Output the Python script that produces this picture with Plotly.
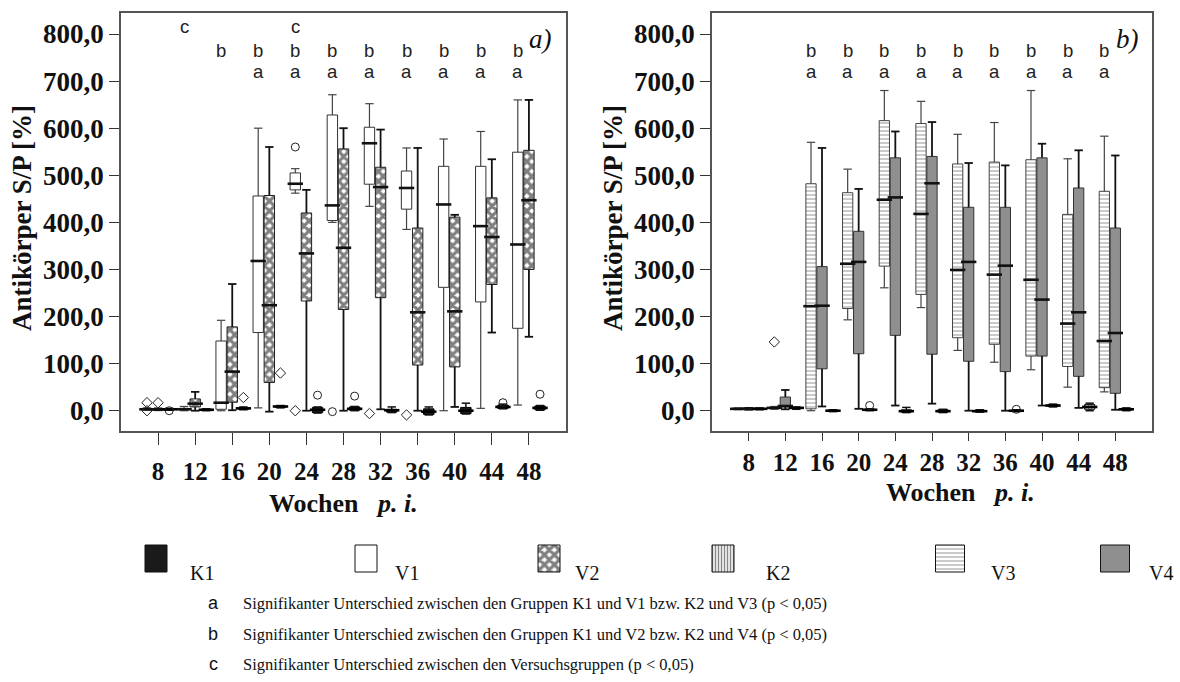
import plotly.graph_objects as go

# ---------------- data ----------------
weeks = [8, 12, 16, 20, 24, 28, 32, 36, 40, 44, 48]

# panel a) : V1, V2, K1   (lower whisker, Q1, median, Q3, upper whisker)
v1_lo  = [1, 0, 0, 6, 462, 400, 434, 385, 0, 5, 12]
v1_q1  = [2, 2, 3, 166, 469, 404, 481, 428, 262, 231, 175]
v1_med = [3, 3, 17, 318, 482, 436, 568, 473, 438, 392, 353]
v1_q3  = [4, 5, 148, 456, 505, 628, 602, 509, 519, 519, 549]
v1_hi  = [6, 9, 192, 600, 514, 671, 652, 558, 577, 593, 660]
v1_circles  = [(24, 560), (28, -2)]
v1_diamonds = [(8, 17), (8, 0), (24, 0), (32, -6), (36, -9)]

v2_lo  = [1, 0, 1, -2, 0, 0, 3, 0, 8, 166, 157]
v2_q1  = [2, 8, 18, 60, 233, 215, 240, 97, 93, 268, 300]
v2_med = [3, 15, 83, 224, 334, 346, 475, 209, 211, 369, 447]
v2_q3  = [4, 25, 178, 457, 420, 556, 517, 388, 411, 452, 553]
v2_hi  = [5, 40, 269, 560, 469, 600, 597, 558, 416, 534, 660]
v2_circles  = []
v2_diamonds = [(8, 17)]

k1_lo  = [1, 0, 2, 6, -5, 0, -4, -9, -7, 4, 1]
k1_q1  = [2, 1, 3, 7, -4, 1, -3, -8, -6, 5, 2]
k1_med = [3, 2, 5, 9, 2, 4, 1, -2, 0, 8, 6]
k1_q3  = [4, 3, 6, 10, 7, 8, 3, 4, 7, 12, 10]
k1_hi  = [5, 4, 8, 11, 8, 9, 8, 8, 16, 14, 11]
k1_circles  = [(8, 0), (24, 33), (28, 31), (44, 17), (48, 35)]
k1_diamonds = [(16, 28), (20, 80)]

# panel b) : V3, V4, K2
v3_lo  = [2, 3, 0, 193, 261, 219, 128, 103, 87, 50, 40]
v3_q1  = [3, 5, 4, 217, 307, 247, 155, 141, 116, 94, 49]
v3_med = [4, 6, 222, 312, 448, 418, 299, 289, 278, 185, 148]
v3_q3  = [5, 7, 482, 463, 616, 610, 524, 528, 533, 417, 466]
v3_hi  = [6, 9, 570, 513, 680, 657, 587, 612, 680, 535, 583]
v3_circles  = []
v3_diamonds = [(12, 146)]

v4_lo  = [2, 3, 9, 4, 11, 15, 0, 0, 11, 6, 2]
v4_q1  = [3, 8, 89, 121, 160, 120, 105, 83, 116, 73, 37]
v4_med = [4, 10, 223, 316, 453, 483, 316, 308, 236, 209, 165]
v4_q3  = [5, 29, 306, 381, 537, 540, 432, 432, 537, 473, 388]
v4_hi  = [6, 44, 558, 471, 593, 613, 526, 521, 567, 553, 542]
v4_circles  = []
v4_diamonds = []

k2_lo  = [2, 3, -2, 0, -4, -4, -3, -2, 8, 0, 0]
k2_q1  = [3, 5, -1, 1, -3, -3, -2, -1, 9, 3, 1]
k2_med = [4, 6, 0, 2, -1, -1, -1, 0, 11, 8, 3]
k2_q3  = [5, 7, 1, 3, 2, 2, 1, 1, 13, 13, 5]
k2_hi  = [6, 8, 2, 4, 7, 3, 2, 2, 14, 16, 6]
k2_circles  = [(20, 11), (36, 3)]
k2_diamonds = []

# significance letters per week (top to bottom)
sig_a = ["", "c", "b", "ba", "cba", "ba", "ba", "ba", "ba", "ba", "ba"]
sig_b = ["", "", "ba", "ba", "ba", "ba", "ba", "ba", "ba", "ba", "ba"]

y_ticks = [0, 100, 200, 300, 400, 500, 600, 700, 800]

legend_labels = ["K1", "V1", "V2", "K2", "V3", "V4"]
footnotes = [
    ("a", "Signifikanter Unterschied zwischen den Gruppen K1 und V1 bzw. K2 und V3 (p < 0,05)"),
    ("b", "Signifikanter Unterschied zwischen den Gruppen K1 und V2 bzw. K2 und V4 (p < 0,05)"),
    ("c", "Signifikanter Unterschied zwischen den Versuchsgruppen (p < 0,05)"),
]

# ---------------- layout helpers ----------------
W, H = 1180, 682
def fx(p):
    return p / W
def fy(p):
    return 1 - p / H

SERIF = "Liberation Serif"
SANS = "Liberation Sans"
BOX_W = 1.12
OFF = 1.2

PAT_V2 = dict(shape="x", fgcolor="#000000", bgcolor="white", size=7, solidity=0.7)
PAT_K2 = dict(shape="|", fgcolor="#111111", bgcolor="white", size=3, solidity=0.5)
PAT_V3 = dict(shape="-", fgcolor="#8a8a8a", bgcolor="white", size=4, solidity=0.45)
NOPAT = dict(shape="")

fig = go.Figure()


def add_series(xa, ya, offset, lo, q1, med, q3, hi, circles, diamonds,
               fill, pattern, outline, wcolor, wwidth, mcolor):
    xs = [w + offset for w in weeks]
    wx, wy = [], []
    for x, l, a, b, h in zip(xs, lo, q1, q3, hi):
        wx += [x, x, None, x, x, None]
        wy += [l, a, None, b, h, None]
    common = dict(xaxis=xa, yaxis=ya, showlegend=False, hoverinfo="skip")
    fig.add_trace(go.Scatter(x=wx, y=wy, mode="lines",
                             line=dict(color=wcolor, width=wwidth), **common))
    fig.add_trace(go.Scatter(x=xs + xs, y=lo + hi, mode="markers",
                             marker=dict(symbol="line-ew", size=6,
                                         line=dict(color=wcolor, width=wwidth)),
                             **common))
    fig.add_trace(go.Bar(x=xs, base=q1, y=[b - a for a, b in zip(q1, q3)],
                         width=BOX_W,
                         marker=dict(color=fill, pattern=pattern,
                                     line=dict(color=outline, width=1)),
                         **common))
    fig.add_trace(go.Scatter(x=xs, y=med, mode="markers",
                             marker=dict(symbol="line-ew", size=11,
                                         line=dict(color=mcolor, width=2.6)),
                             **common))
    if circles:
        fig.add_trace(go.Scatter(x=[w + offset for w, v in circles],
                                 y=[v for w, v in circles], mode="markers",
                                 marker=dict(symbol="circle-open", size=8,
                                             color="#222", line=dict(width=1)),
                                 **common))
    if diamonds:
        fig.add_trace(go.Scatter(x=[w + offset for w, v in diamonds],
                                 y=[v for w, v in diamonds], mode="markers",
                                 marker=dict(symbol="diamond-open", size=8,
                                             color="#222", line=dict(width=1)),
                                 **common))


# panel a
add_series("x", "y", -OFF, v1_lo, v1_q1, v1_med, v1_q3, v1_hi, v1_circles, v1_diamonds,
           "white", NOPAT, "#333", "#444", 1.2, "#111")
add_series("x", "y", 0, v2_lo, v2_q1, v2_med, v2_q3, v2_hi, v2_circles, v2_diamonds,
           "white", PAT_V2, "#222", "#111", 1.8, "#111")
add_series("x", "y", OFF, k1_lo, k1_q1, k1_med, k1_q3, k1_hi, k1_circles, k1_diamonds,
           "#1a1a1a", NOPAT, "#000", "#111", 1.5, "#000")
# panel b
add_series("x2", "y2", -OFF, v3_lo, v3_q1, v3_med, v3_q3, v3_hi, v3_circles, v3_diamonds,
           "white", PAT_V3, "#444", "#444", 1.2, "#111")
add_series("x2", "y2", 0, v4_lo, v4_q1, v4_med, v4_q3, v4_hi, v4_circles, v4_diamonds,
           "#8f8f8f", NOPAT, "#333", "#111", 1.8, "#111")
add_series("x2", "y2", OFF, k2_lo, k2_q1, k2_med, k2_q3, k2_hi, k2_circles, k2_diamonds,
           "white", PAT_K2, "#111", "#111", 1.5, "#000")

# legend swatches (drawn on a hidden helper axis in pixel units)
leg_x = [156, 366, 549, 723, 950, 1115]
leg_w = [22, 22, 22, 22, 29, 29]
leg_fill = ["#1a1a1a", "white", "white", "white", "white", "#8f8f8f"]
leg_pat = [NOPAT, NOPAT, PAT_V2, PAT_K2, PAT_V3, NOPAT]
for cx, w, f, p in zip(leg_x, leg_w, leg_fill, leg_pat):
    fig.add_trace(go.Bar(x=[cx], base=[545], y=[27], width=w,
                         marker=dict(color=f, pattern=p, line=dict(color="#111", width=1)),
                         xaxis="x3", yaxis="y3", showlegend=False, hoverinfo="skip"))
leg_text_x = [188, 393, 573, 764, 989, 1147]

axis_common = dict(showline=True, mirror=True, linecolor="#555", linewidth=1.5,
                   showgrid=False, zeroline=False, ticks="outside", tickcolor="#333",
                   tickwidth=1.2)
xfont = dict(family=SERIF, size=25, color="#111", weight="bold")
yfont = dict(family=SERIF, size=27, color="#111", weight="bold")

fig.update_layout(
    width=W, height=H, margin=dict(l=0, r=0, t=0, b=0),
    paper_bgcolor="white", plot_bgcolor="white",
    barmode="overlay", separators=",.",
    xaxis=dict(domain=[fx(121), fx(566)], range=[4, 52], tickvals=weeks,
               ticklen=12, ticklabelstandoff=5, tickfont=xfont, anchor="y", **axis_common),
    yaxis=dict(domain=[fy(431), fy(13)], range=[-43.1, 844.6], tickvals=y_ticks,
               tickformat=".1f", ticklen=10, tickfont=yfont, anchor="x", **axis_common),
    xaxis2=dict(domain=[fx(712), fx(1152)], range=[4, 52], tickvals=weeks,
                ticklen=8, tickfont=xfont, anchor="y2", **axis_common),
    yaxis2=dict(domain=[fy(431), fy(13)], range=[-43.1, 844.6], tickvals=y_ticks,
                tickformat=".1f", ticklen=10, tickfont=yfont, anchor="x2", **axis_common),
    xaxis3=dict(domain=[0, 1], range=[0, W], visible=False, anchor="y3"),
    yaxis3=dict(domain=[fy(590), fy(535)], range=[590, 535], visible=False, anchor="x3"),
)

ann = []
C = dict(xanchor="center", yanchor="middle", showarrow=False, xref="paper", yref="paper")
# axis titles
for xc in (22, 613):
    ann.append(dict(x=fx(xc), y=fy(218), text="Antikörper S/P [%]", textangle=-90,
                    font=dict(family=SERIF, size=27, color="#111", weight="bold"), **C))
for xc, yc in ((343, 503), (960, 492)):
    ann.append(dict(x=fx(xc), y=fy(yc), text="Wochen&nbsp;&nbsp;&nbsp;<i>p. i.</i>",
                    font=dict(family=SERIF, size=26, color="#111", weight="bold"), **C))
# panel labels
ann.append(dict(x=fx(540), y=fy(39), text="<i>a)</i>",
                font=dict(family=SERIF, size=27, color="#111"), **C))
ann.append(dict(x=fx(1127), y=fy(39), text="<i>b)</i>",
                font=dict(family=SERIF, size=27, color="#111"), **C))
# significance letters
row_y = {"c": 27, "b": 50, "a": 71}
for xref, sig in (("x", sig_a), ("x2", sig_b)):
    for w, s in zip(weeks, sig):
        for ch in s:
            ann.append(dict(x=w - OFF, y=fy(row_y[ch]), xref=xref, yref="paper", text=ch,
                            xanchor="center", yanchor="middle", showarrow=False,
                            font=dict(family=SANS, size=18.5, color="#222")))
# legend labels
for tx, lab in zip(leg_text_x, legend_labels):
    ann.append(dict(x=fx(tx), y=fy(573), xref="paper", yref="paper", text=lab,
                    xanchor="left", yanchor="middle", showarrow=False,
                    font=dict(family=SERIF, size=20, color="#111")))
# footnotes
for (letter, txt), yc in zip(footnotes, (603, 634, 664)):
    ann.append(dict(x=fx(213), y=fy(yc), text=letter,
                    font=dict(family=SANS, size=18, color="#111"), **C))
    ann.append(dict(x=fx(241), y=fy(yc), xref="paper", yref="paper", text=txt,
                    xanchor="left", yanchor="middle", showarrow=False,
                    font=dict(family=SERIF, size=16.5, color="#111")))

fig.update_layout(annotations=ann)
fig.write_html("out.html")
